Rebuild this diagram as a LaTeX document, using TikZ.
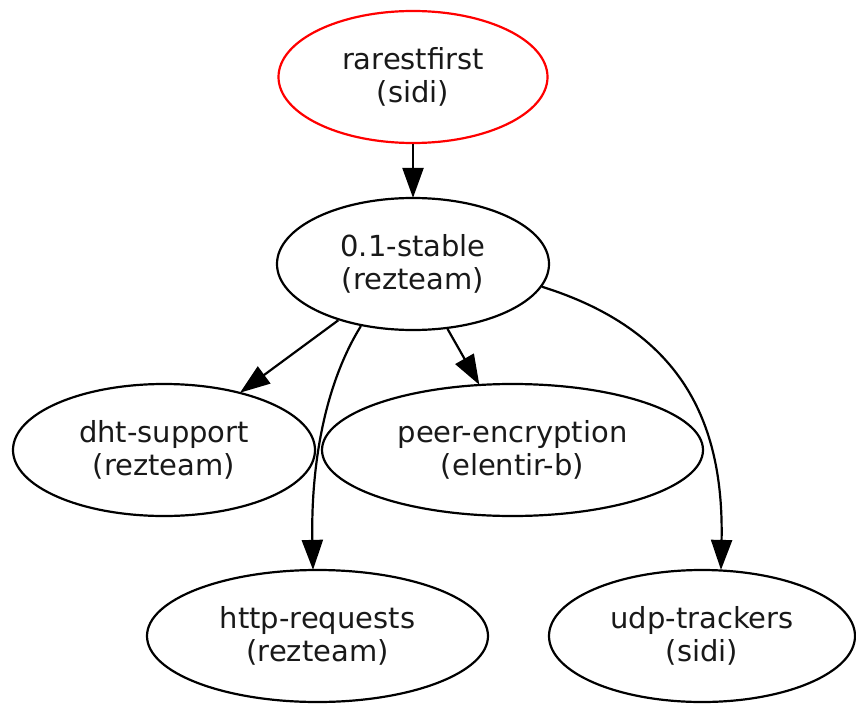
\documentclass[tikz,border=0pt]{standalone}
\usepackage{fontspec}
\setmainfont{DejaVu Sans}
\usetikzlibrary{shapes.geometric,arrows.meta}
\tikzset{
  pkg/.style={ellipse, draw=black, line width=2.2pt, inner sep=0pt,
    align=center, font=\fontsize{29}{33}\selectfont, text=black!90},
  root/.style={pkg, draw=red},
  dep/.style={draw=black, line width=2.2pt,
    -{Triangle[length=30pt,width=21pt]}, shorten >=-1pt},
}
\begin{document}
\begin{tikzpicture}[x=1pt,y=-1pt]
\useasboundingbox (0,0) rectangle (856,706);
\node[root, minimum width=269pt, minimum height=132pt] (rarest) at (413,77) {rarestfirst\\(sidi)};
\node[pkg, minimum width=272pt, minimum height=132pt] (stable) at (413,264) {0.1-stable\\(rezteam)};
\node[pkg, minimum width=302pt, minimum height=132pt] (dht) at (164,450) {dht-support\\(rezteam)};
\node[pkg, minimum width=381pt, minimum height=132pt] (peer) at (512.5,450) {peer-encryption\\(elentir-b)};
\node[pkg, minimum width=341pt, minimum height=132pt] (http) at (317.5,636) {http-requests\\(rezteam)};
\node[pkg, minimum width=306pt, minimum height=132pt] (udp) at (702,636) {udp-trackers\\(sidi)};

\draw[dep] (rarest.south) -- (stable.north);
\draw[dep] (stable.-143) -- (dht.37);
\draw[dep] (stable.-62) -- (peer.117.6);
\draw[dep] (stable.-130) .. controls (320,392) and (311,480) .. (http.north -| 313,0);
\draw[dep] (stable.-10.5) .. controls (680,330) and (724,420) .. (udp.north -| 721,0);
\end{tikzpicture}
\end{document}
